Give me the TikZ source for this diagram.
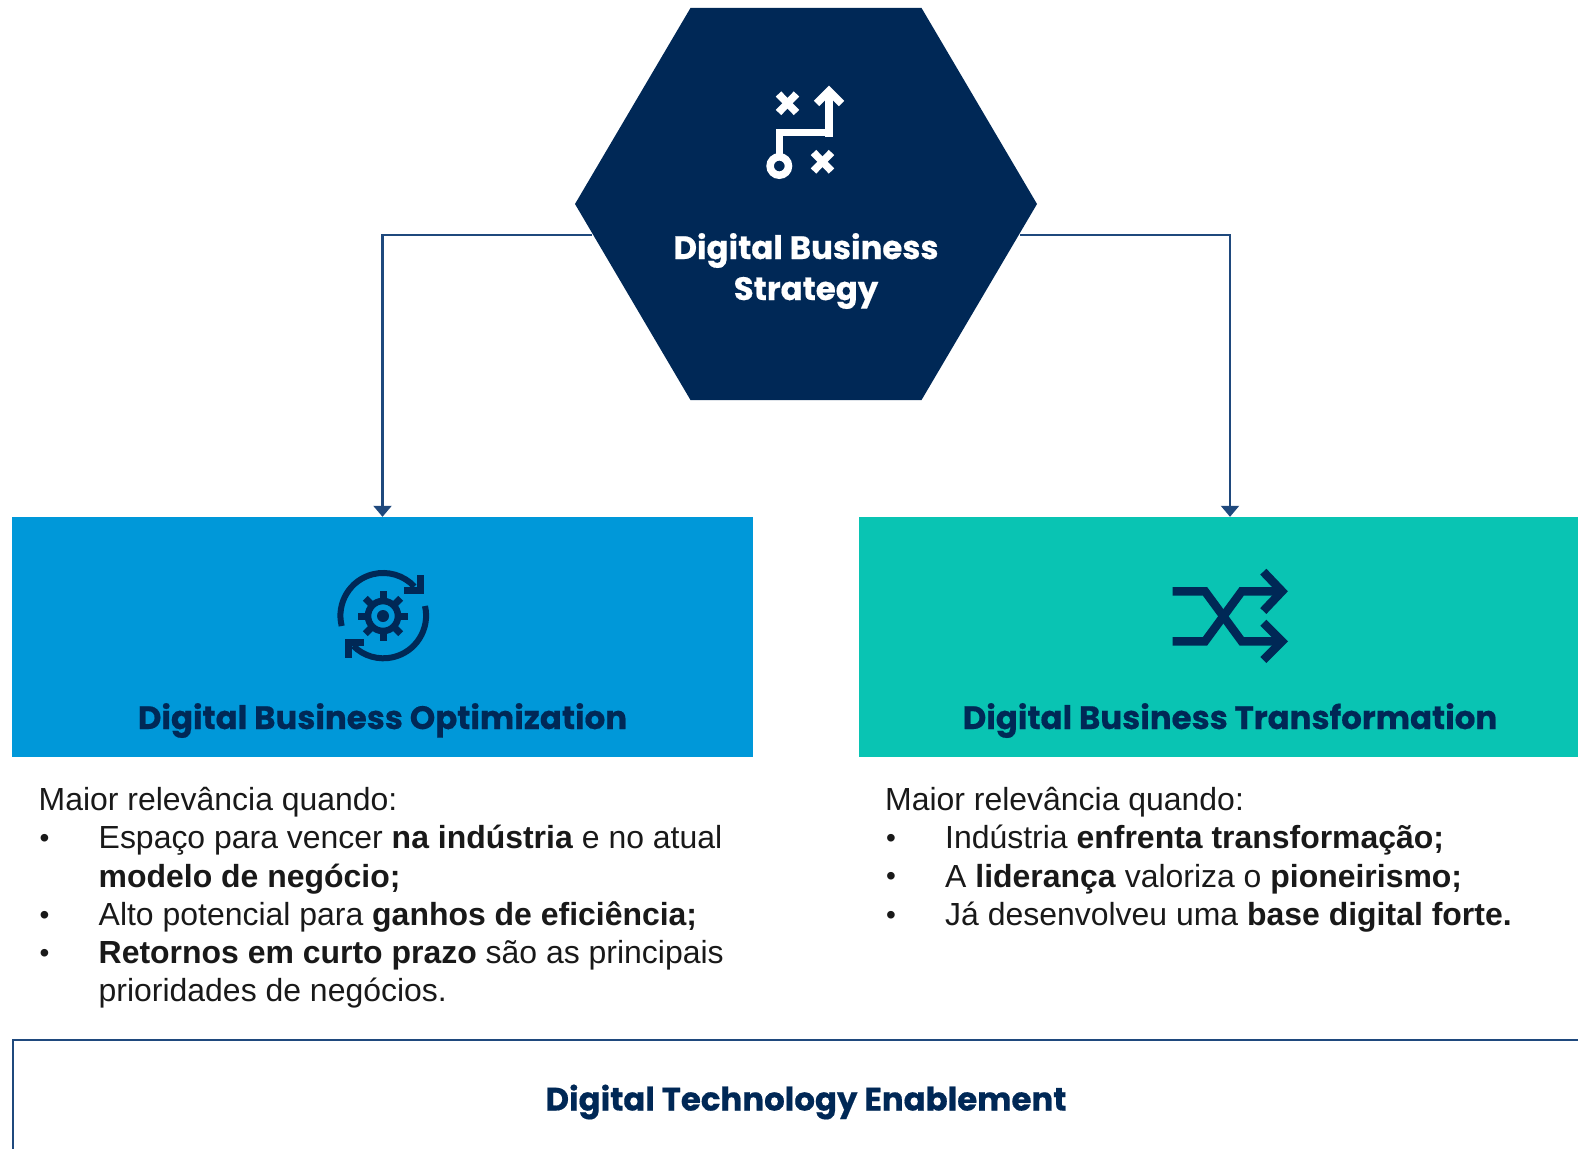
\documentclass[tikz,border=0pt]{standalone}
\usepackage{fontspec}
\setmainfont{Liberation Sans}
\newfontfamily\headfont{Poppins}[BoldFeatures = {FakeBold = 0.5}]
\usetikzlibrary{arrows.meta}
\usetikzlibrary{shapes}
\definecolor{navy}{HTML}{002856}
\definecolor{linkBlue}{HTML}{1F497D}
\definecolor{optBlue}{HTML}{0098D9}
\definecolor{transTeal}{HTML}{09C4B3}
\newcommand{\blt}{\makebox[60pt][l]{\hspace{1pt}\raisebox{1.2pt}{\fontsize{28}{28}\selectfont\textbullet}}}
\newcommand{\ind}{\hspace*{60pt}}

\begin{document}
\begin{tikzpicture}[x = 1pt, y = -1pt]
\tikzstyle{hexStyle} = [shape = regular polygon, regular polygon sides = 6, minimum size = 462pt, inner sep = 0pt, fill = navy, yscale = 0.98, transform shape]
\tikzstyle{boxStyle} = [shape = rectangle, minimum height = 240pt, inner sep = 0pt]
\tikzstyle{techStyle} = [shape = rectangle, minimum width = 1586pt, minimum height = 124pt, inner sep = 0pt, draw = linkBlue, line width = 2.8pt, font = \headfont\bfseries\fontsize{32.4}{40}\selectfont, text = navy]
\tikzstyle{headStyle} = [font = \headfont\bfseries\fontsize{32.4}{41}\selectfont, inner sep = 0pt, align = center]
\tikzstyle{listStyle} = [font = \fontsize{31.95}{38.3}\selectfont, inner sep = 0pt, align = left, anchor = north west, text = black!90]
\tikzstyle{linkStyle} = [draw = linkBlue, line width = 2.2pt, -{Triangle[width = 18pt, length = 11pt]}]
\tikzstyle{iconStyle} = [draw = navy, line width = 8.5pt]
\tikzstyle{whiteStyle} = [draw = white, line width = 7.5pt]
\clip (0, 0) rectangle (1578, 1148);
\node[hexStyle] (hex) at (806, 204) {};
\node[boxStyle, minimum width = 741pt, fill = optBlue] (opt) at (382.5, 637) {};
\node[boxStyle, minimum width = 742pt, fill = transTeal] (trans) at (1230, 637) {};
\node[techStyle] (tech) at (806, 1102) {Digital Technology Enablement};
\node[headStyle, text = white] (hexLabel) at (806, 271) {Digital Business\\Strategy};
\node[headStyle, text = navy] (optLabel) at (382.5, 720.5) {Digital Business Optimization};
\node[headStyle, text = navy] (transLabel) at (1230, 720.5) {Digital Business Transformation};
\node[listStyle] (optList) at (38.5, 787) {Maior relevância quando:\\
\blt Espaço para vencer \textbf{na indústria} e no atual\\
\ind\textbf{modelo de negócio;}\\
\blt Alto potencial para \textbf{ganhos de eficiência;}\\
\blt\textbf{Retornos em curto prazo} são as principais\\
\ind prioridades de negócios.};
\node[listStyle] (transList) at (885, 787) {Maior relevância quando:\\
\blt Indústria \textbf{enfrenta transformação;}\\
\blt A \textbf{liderança} valoriza o \textbf{pioneirismo;}\\
\blt Já desenvolveu uma \textbf{base digital forte.}};
\draw[linkStyle] ([yshift = -1.2pt]hex.188) -| (opt.north);
\draw[linkStyle] ([yshift = -1.2pt]hex.352) -| (trans.north);
\draw[whiteStyle] (829, 136.5) -- (829, 91);
\draw[whiteStyle] (816.5, 103.5) -- (829, 91) -- (841.5, 103.5);
\draw[whiteStyle] (832.7, 132.7) -- (779.3, 132.7) -- (779.3, 157);
\draw[whiteStyle] (779.3, 166) circle (9.2);
\draw[whiteStyle] (778.5, 94) -- (796.5, 112.5);
\draw[whiteStyle] (796.5, 94) -- (778.5, 112.5);
\draw[whiteStyle] (813.5, 152.5) -- (831.5, 171);
\draw[whiteStyle] (831.5, 152.5) -- (813.5, 171);
\draw[iconStyle, line width = 6pt] (341.7, 626) arc (-194:-43:42.7);
\draw[iconStyle, line width = 6pt] (425, 606) arc (-13:135:42.7);
\draw[iconStyle, line width = 7pt] (404, 590) -- (420, 590) -- (420, 575);
\draw[iconStyle, line width = 7pt] (363.5, 642.5) -- (348.5, 642.5) -- (348.5, 657.5);
\draw[iconStyle, line width = 7pt] (358, 616) -- (408, 616);
\draw[iconStyle, line width = 7pt] (383, 591) -- (383, 641);
\draw[iconStyle, line width = 7pt] (365.3, 598.3) -- (400.7, 633.7);
\draw[iconStyle, line width = 7pt] (400.7, 598.3) -- (365.3, 633.7);
\draw[iconStyle, fill = optBlue, line width = 6.6pt] (383, 616) circle (15);
\fill[navy] (383, 616) circle (6);
\draw[iconStyle] (1172.7, 591.3) -- (1205, 591.3) -- (1241.7, 641.3) -- (1280, 641.3);
\draw[iconStyle] (1172.7, 641.3) -- (1205, 641.3) -- (1241.7, 591.3) -- (1280, 591.3);
\draw[iconStyle] (1263.3, 571.7) -- (1282, 591.3) -- (1263.3, 611);
\draw[iconStyle] (1263.3, 622.7) -- (1282, 641.3) -- (1263.3, 660);
\end{tikzpicture}
\end{document}
